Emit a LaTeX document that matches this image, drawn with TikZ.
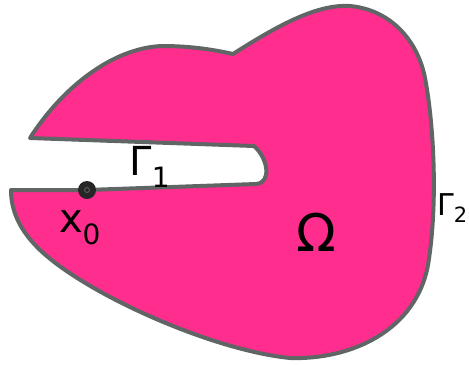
\documentclass[tikz,border=0pt]{standalone}
\usepackage{fontspec}
\setmainfont{DejaVu Sans}
\definecolor{domPink}{RGB}{255,46,142}
\definecolor{edgeGray}{RGB}{96,101,102}
\usetikzlibrary{positioning}

\begin{document}
\begin{tikzpicture}[x=1pt, y=-1pt,
    lbl/.style={font=\fontsize{40}{46}\selectfont, inner sep=0pt},
    bigLbl/.style={font=\fontsize{52}{58}\selectfont, inner sep=0pt}]
    \useasboundingbox (0,0) rectangle (469,365);

    % Domain with the slit
    \draw[fill=domPink, draw=edgeGray, line width=4pt, line join=round]
        (30,138) .. controls (62,88) and (112,48) .. (162,46)
        .. controls (192,46) and (215,50) .. (233,54)
        .. controls (280,24) and (318,4) .. (350,6)
        .. controls (392,10) and (418,42) .. (425,78)
        .. controls (434,125) and (438,205) .. (428,265)
        .. controls (416,330) and (352,360) .. (290,358)
        .. controls (210,350) and (82,292) .. (38,248)
        .. controls (16,226) and (11,206) .. (11,190)
        -- (87,190) -- (256,184)
        .. controls (272,183) and (268,158) .. (254,146)
        -- cycle;

    % Point on the slit
    \node[circle, fill=black!85, minimum size=18pt, inner sep=0pt] (xpt) at (87,190) {};
    \draw[edgeGray, line width=0.8pt] (xpt.center) circle (2.5pt);

    % Labels
    \node[lbl] (gamOne) at (150,167) {Γ\textsubscript{1}};
    \node[lbl] (xLbl) at (80,228) {x\textsubscript{0}};
    \node[bigLbl] (omega) at (316,232) {Ω};
    \node[lbl, anchor=east, font=\fontsize{30}{36}\selectfont] (gamTwo) at (468,208) {Γ\textsubscript{2}};
\end{tikzpicture}
\end{document}
